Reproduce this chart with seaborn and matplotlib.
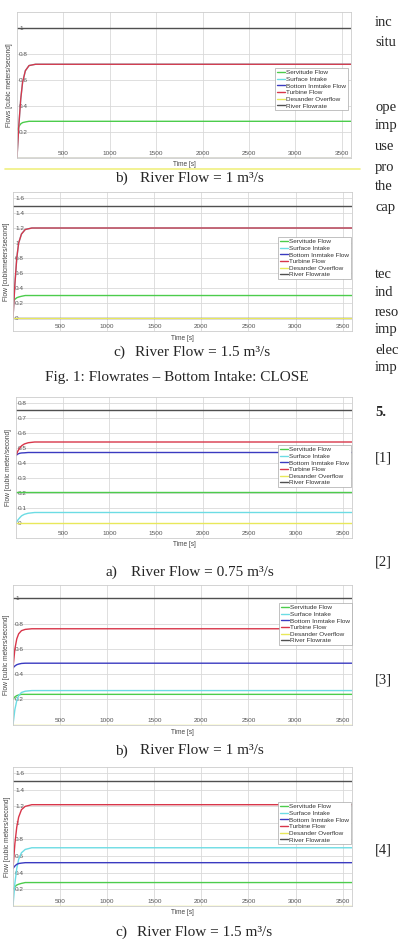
import pandas as pd
import numpy as np
import matplotlib
matplotlib.use('Agg')
import matplotlib.pyplot as plt
import seaborn as sns
from matplotlib.lines import Line2D

time_s = [0, 20, 40, 60, 90, 130, 200, 3600]

series_names = ['Servitude Flow', 'Surface Intake', 'Bottom Inmtake Flow',
                'Turbine Flow', 'Desander Overflow', 'River Flowrate']
series_colors = ['#4ccc4c', '#6cdce4', '#3a3ac0', '#d8364a', '#e8e85a', '#505050']

# Bottom intake CLOSE - river flow 1 m3/s
close1_servitude = [0.21, 0.24, 0.26, 0.27, 0.275, 0.28, 0.28, 0.28]
close1_surface   = [0.0, 0.25, 0.45, 0.58, 0.67, 0.71, 0.72, 0.72]
close1_bottom    = [0, 0, 0, 0, 0, 0, 0, 0]
close1_turbine   = [0.0, 0.25, 0.45, 0.58, 0.67, 0.71, 0.72, 0.72]
close1_desander  = [0, 0, 0, 0, 0, 0, 0, 0]
close1_river     = [1, 1, 1, 1, 1, 1, 1, 1]

# Bottom intake CLOSE - river flow 1.5 m3/s
close15_servitude = [0.22, 0.25, 0.27, 0.28, 0.29, 0.30, 0.30, 0.30]
close15_surface   = [0.0, 0.45, 0.80, 1.00, 1.12, 1.18, 1.20, 1.20]
close15_bottom    = [0, 0, 0, 0, 0, 0, 0, 0]
close15_turbine   = [0.0, 0.45, 0.80, 1.00, 1.12, 1.18, 1.20, 1.20]
close15_desander  = [0, 0, 0, 0, 0, 0, 0, 0]
close15_river     = [1.5, 1.5, 1.5, 1.5, 1.5, 1.5, 1.5, 1.5]

# Bottom intake OPEN - river flow 0.75 m3/s
open075_servitude = [0.21, 0.21, 0.21, 0.21, 0.21, 0.21, 0.21, 0.21]
open075_surface   = [0.0, 0.02, 0.035, 0.048, 0.058, 0.065, 0.07, 0.07]
open075_bottom    = [0.45, 0.46, 0.465, 0.467, 0.468, 0.47, 0.47, 0.47]
open075_turbine   = [0.45, 0.48, 0.50, 0.515, 0.527, 0.535, 0.54, 0.54]
open075_desander  = [0, 0, 0, 0, 0, 0, 0, 0]
open075_river     = [0.75, 0.75, 0.75, 0.75, 0.75, 0.75, 0.75, 0.75]

# Bottom intake OPEN - river flow 1 m3/s
open1_servitude = [0.20, 0.22, 0.23, 0.235, 0.24, 0.24, 0.24, 0.24]
open1_surface   = [0.0, 0.12, 0.19, 0.23, 0.255, 0.265, 0.27, 0.27]
open1_bottom    = [0.45, 0.465, 0.475, 0.48, 0.485, 0.487, 0.487, 0.487]
open1_turbine   = [0.45, 0.60, 0.68, 0.72, 0.745, 0.755, 0.76, 0.76]
open1_desander  = [0, 0, 0, 0, 0, 0, 0, 0]
open1_river     = [1, 1, 1, 1, 1, 1, 1, 1]

# Bottom intake OPEN - river flow 1.5 m3/s
open15_servitude = [0.20, 0.23, 0.25, 0.26, 0.27, 0.28, 0.28, 0.28]
open15_surface   = [0.0, 0.27, 0.45, 0.56, 0.64, 0.68, 0.70, 0.70]
open15_bottom    = [0.45, 0.48, 0.50, 0.51, 0.515, 0.52, 0.52, 0.52]
open15_turbine   = [0.45, 0.75, 0.95, 1.07, 1.16, 1.20, 1.22, 1.22]
open15_desander  = [0, 0, 0, 0, 0, 0, 0, 0]
open15_river     = [1.5, 1.5, 1.5, 1.5, 1.5, 1.5, 1.5, 1.5]

x_ticks = [500, 1000, 1500, 2000, 2500, 3000, 3500]
yticks_close1 = [0.2, 0.4, 0.6, 0.8, 1]
yticks_close15 = [0, 0.2, 0.4, 0.6, 0.8, 1, 1.2, 1.4, 1.6]
yticks_open075 = [0, 0.1, 0.2, 0.3, 0.4, 0.5, 0.6, 0.7, 0.8]
yticks_open1 = [0.2, 0.4, 0.6, 0.8, 1]
yticks_open15 = [0.2, 0.4, 0.6, 0.8, 1, 1.2, 1.4, 1.6]

ylabels = ['Flows [cubic meters/second]', 'Flow [cubicmeters/second]',
           'Flow [cubic meter/second]', 'Flow [cubic meters/second]',
           'Flow [cubic meters/second]']
captions = [('b)', 'River Flow = 1 m³/s'), ('c)', 'River Flow = 1.5 m³/s'),
            ('a)', 'River Flow = 0.75 m³/s'), ('b)', 'River Flow = 1 m³/s'),
            ('c)', 'River Flow = 1.5 m³/s')]

panels = [
    [close1_servitude, close1_surface, close1_bottom, close1_turbine, close1_desander, close1_river],
    [close15_servitude, close15_surface, close15_bottom, close15_turbine, close15_desander, close15_river],
    [open075_servitude, open075_surface, open075_bottom, open075_turbine, open075_desander, open075_river],
    [open1_servitude, open1_surface, open1_bottom, open1_turbine, open1_desander, open1_river],
    [open15_servitude, open15_surface, open15_bottom, open15_turbine, open15_desander, open15_river],
]
panel_yticks = [yticks_close1, yticks_close15, yticks_open075, yticks_open1, yticks_open15]

# layout in pixels: axes box, ylim, legend right/top, ylabel x, caption (y, letter x, text x)
W, H = 399, 939
layout = [
    dict(box=(17, 351, 12, 158), ylim=(-0.003, 1.123), leg=(348, 68), ylab=10, cap=(178, 115, 140)),
    dict(box=(13, 352, 192, 331), ylim=(-0.173, 1.68), leg=(351, 237), ylab=7, cap=(352, 113, 135)),
    dict(box=(16, 352, 397, 538), ylim=(-0.1, 0.84), leg=(351, 445), ylab=9, cap=(572, 105, 131)),
    dict(box=(13, 352, 585, 725), ylim=(-0.003, 1.107), leg=(352, 603), ylab=7, cap=(751, 115, 140)),
    dict(box=(13, 352, 767, 906), ylim=(-0.003, 1.675), leg=(351, 802), ylab=8, cap=(932, 115, 137)),
]

sns.set_style('whitegrid')
plt.rcParams['font.family'] = ['Liberation Sans', 'DejaVu Sans']

fig = plt.figure(figsize=(W / 100, H / 100), dpi=100)
palette = dict(zip(series_names, series_colors))
serif = ['Liberation Serif', 'DejaVu Serif']

for values, yt, ylab, cap, lay in zip(panels, panel_yticks, ylabels, captions, layout):
    left, right, top, bottom = lay['box']
    ax = fig.add_axes([left / W, 1 - bottom / H, (right - left) / W, (bottom - top) / H])

    rows = []
    for name, vals in zip(series_names, values):
        for t, v in zip(time_s, vals):
            rows.append((t, v, name))
    df = pd.DataFrame(rows, columns=['time', 'flow', 'series'])

    sns.lineplot(data=df, x='time', y='flow', hue='series', hue_order=series_names,
                 palette=palette, estimator=None, sort=False, linewidth=1.0,
                 legend=False, ax=ax)

    ax.set_xlim(0, 3600)
    ax.set_ylim(*lay['ylim'])
    ax.set_xticks(x_ticks)
    ax.set_yticks(yt)
    ax.set_yticklabels([f'{v:g}' for v in yt])
    ax.grid(True, color='#d9d9d9', linewidth=0.6)
    for sp in ax.spines.values():
        sp.set_color('#cccccc')
        sp.set_linewidth(0.6)
    ax.tick_params(axis='both', length=0, labelsize=4.6, labelcolor='#555555')
    ax.tick_params(axis='x', pad=-1.2)
    ax.tick_params(axis='y', pad=-1.5)
    for lb in ax.get_xticklabels():
        lb.set_va('bottom')
    for lb in ax.get_yticklabels():
        lb.set_ha('left')

    ax.set_xlabel('Time [s]', fontsize=4.7, color='#444444')
    ax.xaxis.set_label_coords(0.5, -3.5 / (bottom - top))
    ax.set_ylabel(ylab, fontsize=4.8, color='#444444')
    ax.yaxis.set_label_coords((lay['ylab'] - left) / (right - left), 0.5)
    ax.yaxis.label.set_va('center')

    handles = [Line2D([], [], color=c, linewidth=1.0) for c in series_colors]
    leg = ax.legend(handles, series_names, loc='upper right',
                    bbox_to_anchor=(lay['leg'][0] / W, 1 - lay['leg'][1] / H),
                    bbox_transform=fig.transFigure, fontsize=4.6, frameon=True,
                    fancybox=False, borderpad=0.3, labelspacing=0.18,
                    handlelength=1.3, handletextpad=0.2, borderaxespad=0)
    leg.get_frame().set_edgecolor('#a8a8a8')
    leg.get_frame().set_linewidth(0.5)
    leg.get_frame().set_alpha(1)
    for txt in leg.get_texts():
        txt.set_color('#333333')

    cy, lx, tx = lay['cap']
    fig.text(lx / W, 1 - cy / H, cap[0], fontsize=11, family=serif, va='center')
    fig.text(tx / W, 1 - cy / H, cap[1], fontsize=11, family=serif, va='center')

fig.text(45 / W, 1 - 378 / H, 'Fig. 1: Flowrates – Bottom Intake: CLOSE',
         fontsize=11, family=serif, va='center')

# yellow highlight under the first plot
fig.add_artist(Line2D([5 / W, 360 / W], [1 - 169 / H, 1 - 169 / H],
                      color='#f0f080', linewidth=1.2))

# right column of the page, only the part that is visible
right_col = [(23, 'inc'), (42, 'situ'), (107, 'ope'), (125, 'imp'), (146, 'use'),
             (167, 'pro'), (187, 'the'), (207, 'cap'), (275, 'tec'), (293, 'ind'),
             (312, 'reso'), (330, 'imp'), (350, 'elec'), (368, 'imp'),
             (458, '[1]'), (562, '[2]'), (680, '[3]'), (850, '[4]')]
for y, s in right_col:
    fig.text(375 / W, 1 - y / H, s, fontsize=10.5, family=serif, va='center')
fig.text(375 / W, 1 - 413 / H, '5.', fontsize=10.5, family=serif,
         fontweight='bold', va='center')

plt.savefig('out.png', dpi=100)
